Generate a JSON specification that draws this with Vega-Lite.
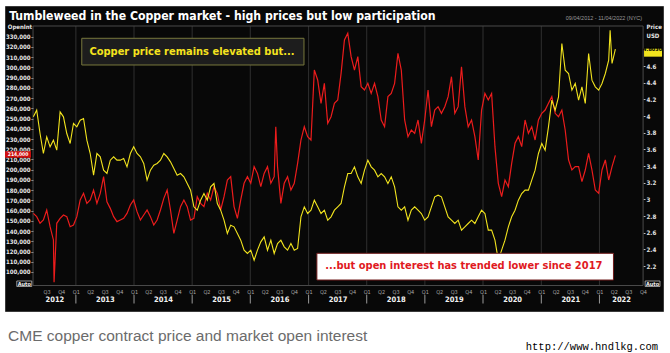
{
  "$schema": "https://vega.github.io/schema/vega-lite/v6.json",
  "width": 658,
  "height": 305,
  "autosize": {"type": "none"},
  "padding": {"left": 5, "top": 6, "right": 7, "bottom": 42},
  "background": "#ffffff",
  "config": {
    "view": {"fill": "#080808", "stroke": "#3a3a3a", "strokeWidth": 1}
  },
  "data": {
    "values": [
      {"d":"2012-04-09","oi":157300,"px":3.99},
      {"d":"2012-04-30","oi":154100,"px":4.07},
      {"d":"2012-05-21","oi":147600,"px":3.79},
      {"d":"2012-06-11","oi":150800,"px":3.55},
      {"d":"2012-07-02","oi":160600,"px":3.75},
      {"d":"2012-07-23","oi":144300,"px":3.63},
      {"d":"2012-08-13","oi":131300,"px":3.71},
      {"d":"2012-08-17","oi":90000,"px":null},
      {"d":"2012-09-03","oi":147600,"px":3.59},
      {"d":"2012-09-24","oi":152400,"px":4.05},
      {"d":"2012-10-15","oi":155700,"px":3.99},
      {"d":"2012-11-05","oi":154100,"px":3.79},
      {"d":"2012-11-26","oi":144300,"px":3.67},
      {"d":"2012-12-17","oi":145900,"px":3.91},
      {"d":"2013-01-07","oi":154100,"px":3.87},
      {"d":"2013-01-28","oi":170400,"px":3.95},
      {"d":"2013-02-18","oi":176900,"px":3.97},
      {"d":"2013-03-11","oi":167100,"px":3.71},
      {"d":"2013-04-01","oi":170400,"px":3.55},
      {"d":"2013-04-22","oi":180100,"px":3.29},
      {"d":"2013-05-13","oi":167100,"px":3.55},
      {"d":"2013-06-03","oi":176900,"px":3.51},
      {"d":"2013-06-24","oi":193200,"px":3.35},
      {"d":"2013-07-15","oi":168700,"px":3.31},
      {"d":"2013-08-05","oi":162200,"px":3.47},
      {"d":"2013-08-26","oi":154100,"px":3.51},
      {"d":"2013-09-16","oi":149200,"px":3.47},
      {"d":"2013-10-07","oi":150800,"px":3.47},
      {"d":"2013-10-28","oi":152400,"px":3.49},
      {"d":"2013-11-18","oi":157300,"px":3.39},
      {"d":"2013-12-09","oi":165500,"px":3.55},
      {"d":"2013-12-30","oi":170400,"px":3.63},
      {"d":"2014-01-20","oi":159000,"px":3.55},
      {"d":"2014-02-10","oi":150800,"px":3.51},
      {"d":"2014-03-03","oi":155700,"px":3.43},
      {"d":"2014-03-24","oi":160600,"px":3.23},
      {"d":"2014-04-14","oi":154100,"px":3.35},
      {"d":"2014-05-05","oi":145900,"px":3.41},
      {"d":"2014-05-26","oi":150800,"px":3.43},
      {"d":"2014-06-16","oi":160600,"px":3.47},
      {"d":"2014-07-07","oi":172000,"px":3.55},
      {"d":"2014-07-28","oi":180100,"px":3.51},
      {"d":"2014-08-18","oi":160600,"px":3.45},
      {"d":"2014-09-08","oi":137800,"px":3.37},
      {"d":"2014-09-29","oi":150800,"px":3.29},
      {"d":"2014-10-20","oi":163900,"px":3.31},
      {"d":"2014-11-10","oi":170400,"px":3.27},
      {"d":"2014-12-01","oi":163900,"px":3.19},
      {"d":"2014-12-22","oi":150800,"px":3.11},
      {"d":"2015-01-12","oi":152400,"px":2.91},
      {"d":"2015-02-02","oi":173600,"px":2.87},
      {"d":"2015-02-23","oi":167100,"px":2.99},
      {"d":"2015-03-16","oi":163900,"px":3.07},
      {"d":"2015-04-06","oi":176900,"px":2.99},
      {"d":"2015-04-27","oi":170400,"px":3.15},
      {"d":"2015-05-18","oi":183400,"px":3.19},
      {"d":"2015-06-08","oi":176900,"px":2.95},
      {"d":"2015-06-29","oi":160600,"px":2.87},
      {"d":"2015-07-20","oi":173600,"px":2.75},
      {"d":"2015-08-10","oi":189900,"px":2.59},
      {"d":"2015-08-31","oi":193200,"px":2.69},
      {"d":"2015-09-21","oi":163900,"px":2.67},
      {"d":"2015-10-12","oi":152400,"px":2.59},
      {"d":"2015-11-02","oi":170400,"px":2.51},
      {"d":"2015-11-23","oi":186700,"px":2.39},
      {"d":"2015-12-14","oi":193200,"px":2.35},
      {"d":"2016-01-04","oi":186700,"px":2.39},
      {"d":"2016-01-25","oi":203000,"px":2.27},
      {"d":"2016-02-15","oi":196400,"px":2.39},
      {"d":"2016-03-07","oi":183400,"px":2.49},
      {"d":"2016-03-28","oi":196400,"px":2.55},
      {"d":"2016-04-18","oi":203000,"px":2.39},
      {"d":"2016-05-09","oi":186700,"px":2.51},
      {"d":"2016-05-30","oi":193200,"px":2.35},
      {"d":"2016-06-09","oi":242000,"px":null},
      {"d":"2016-06-20","oi":203000,"px":2.47},
      {"d":"2016-07-11","oi":167100,"px":2.51},
      {"d":"2016-08-01","oi":186700,"px":2.43},
      {"d":"2016-08-22","oi":193200,"px":2.39},
      {"d":"2016-09-12","oi":180100,"px":2.47},
      {"d":"2016-10-03","oi":186700,"px":2.39},
      {"d":"2016-10-24","oi":206200,"px":2.41},
      {"d":"2016-11-14","oi":229000,"px":2.79},
      {"d":"2016-12-05","oi":242000,"px":2.91},
      {"d":"2016-12-26","oi":232300,"px":2.83},
      {"d":"2017-01-16","oi":229000,"px":2.87},
      {"d":"2017-02-06","oi":297400,"px":2.99},
      {"d":"2017-02-27","oi":287700,"px":2.91},
      {"d":"2017-03-20","oi":264900,"px":2.83},
      {"d":"2017-04-10","oi":284400,"px":2.87},
      {"d":"2017-05-01","oi":245300,"px":2.75},
      {"d":"2017-05-22","oi":251800,"px":2.79},
      {"d":"2017-06-12","oi":264900,"px":2.87},
      {"d":"2017-07-03","oi":268100,"px":2.91},
      {"d":"2017-07-24","oi":294200,"px":2.95},
      {"d":"2017-08-14","oi":326800,"px":3.15},
      {"d":"2017-09-04","oi":333300,"px":3.31},
      {"d":"2017-09-25","oi":310500,"px":3.31},
      {"d":"2017-10-16","oi":297400,"px":3.39},
      {"d":"2017-11-06","oi":310500,"px":3.27},
      {"d":"2017-11-27","oi":281200,"px":3.19},
      {"d":"2017-12-18","oi":277900,"px":3.35},
      {"d":"2018-01-08","oi":284400,"px":3.47},
      {"d":"2018-01-29","oi":274600,"px":3.39},
      {"d":"2018-02-19","oi":284400,"px":3.35},
      {"d":"2018-03-12","oi":271400,"px":3.27},
      {"d":"2018-04-02","oi":248600,"px":3.31},
      {"d":"2018-04-23","oi":242000,"px":3.27},
      {"d":"2018-05-14","oi":271400,"px":3.19},
      {"d":"2018-06-04","oi":274600,"px":3.27},
      {"d":"2018-06-25","oi":284400,"px":3.15},
      {"d":"2018-07-16","oi":313700,"px":2.91},
      {"d":"2018-08-06","oi":297400,"px":2.87},
      {"d":"2018-08-27","oi":248600,"px":2.91},
      {"d":"2018-09-17","oi":232300,"px":2.75},
      {"d":"2018-10-08","oi":238800,"px":2.87},
      {"d":"2018-10-29","oi":235500,"px":2.91},
      {"d":"2018-11-19","oi":248600,"px":2.87},
      {"d":"2018-12-10","oi":225800,"px":2.83},
      {"d":"2018-12-31","oi":248600,"px":2.75},
      {"d":"2019-01-21","oi":277900,"px":2.79},
      {"d":"2019-02-11","oi":242000,"px":2.91},
      {"d":"2019-03-04","oi":258300,"px":3.03},
      {"d":"2019-03-25","oi":261600,"px":3.05},
      {"d":"2019-04-15","oi":255100,"px":3.03},
      {"d":"2019-05-06","oi":261600,"px":2.91},
      {"d":"2019-05-27","oi":271400,"px":2.79},
      {"d":"2019-06-17","oi":290900,"px":2.75},
      {"d":"2019-07-08","oi":255100,"px":2.71},
      {"d":"2019-07-29","oi":261600,"px":2.75},
      {"d":"2019-08-19","oi":300700,"px":2.63},
      {"d":"2019-09-09","oi":261600,"px":2.67},
      {"d":"2019-09-30","oi":242000,"px":2.71},
      {"d":"2019-10-21","oi":248600,"px":2.75},
      {"d":"2019-11-11","oi":232300,"px":2.71},
      {"d":"2019-12-02","oi":209500,"px":2.79},
      {"d":"2019-12-23","oi":258300,"px":2.87},
      {"d":"2020-01-13","oi":274600,"px":2.83},
      {"d":"2020-02-03","oi":268100,"px":2.63},
      {"d":"2020-02-24","oi":274600,"px":2.63},
      {"d":"2020-03-16","oi":222500,"px":2.51},
      {"d":"2020-04-06","oi":186700,"px":2.27},
      {"d":"2020-04-27","oi":173600,"px":2.39},
      {"d":"2020-05-18","oi":189900,"px":2.51},
      {"d":"2020-06-08","oi":183400,"px":2.67},
      {"d":"2020-06-29","oi":206200,"px":2.79},
      {"d":"2020-07-20","oi":225800,"px":2.87},
      {"d":"2020-08-10","oi":232300,"px":2.99},
      {"d":"2020-08-31","oi":222500,"px":3.07},
      {"d":"2020-09-21","oi":248600,"px":3.11},
      {"d":"2020-10-12","oi":235500,"px":3.11},
      {"d":"2020-11-02","oi":242000,"px":3.23},
      {"d":"2020-11-23","oi":229000,"px":3.35},
      {"d":"2020-12-14","oi":248600,"px":3.55},
      {"d":"2021-01-04","oi":255100,"px":3.67},
      {"d":"2021-01-25","oi":258300,"px":3.59},
      {"d":"2021-02-15","oi":264900,"px":3.87},
      {"d":"2021-03-08","oi":271400,"px":4.19},
      {"d":"2021-03-29","oi":255100,"px":4.07},
      {"d":"2021-04-19","oi":251800,"px":4.23},
      {"d":"2021-05-10","oi":258300,"px":4.87},
      {"d":"2021-05-31","oi":238800,"px":4.55},
      {"d":"2021-06-21","oi":209500,"px":4.51},
      {"d":"2021-07-12","oi":199700,"px":4.31},
      {"d":"2021-08-02","oi":203000,"px":4.39},
      {"d":"2021-08-23","oi":203000,"px":4.19},
      {"d":"2021-09-13","oi":188300,"px":4.35},
      {"d":"2021-10-04","oi":199700,"px":4.15},
      {"d":"2021-10-25","oi":216000,"px":4.75},
      {"d":"2021-11-15","oi":199700,"px":4.43},
      {"d":"2021-12-06","oi":180100,"px":4.35},
      {"d":"2021-12-27","oi":176900,"px":4.31},
      {"d":"2022-01-17","oi":199700,"px":4.39},
      {"d":"2022-02-07","oi":209500,"px":4.51},
      {"d":"2022-02-28","oi":189900,"px":4.67},
      {"d":"2022-03-09","oi":null,"px":5.03},
      {"d":"2022-03-21","oi":203000,"px":4.63},
      {"d":"2022-04-11","oi":214000,"px":4.803}
    ]
  },
  "resolve": {"scale": {"y": "independent"}, "axis": {"x": "independent", "y": "independent"}},
  "layer": [
    {
      "data": {"values": [{"d":"2013-01-01"},{"d":"2014-01-01"},{"d":"2015-01-01"},{"d":"2016-01-01"},{"d":"2017-01-01"},{"d":"2018-01-01"},{"d":"2019-01-01"},{"d":"2020-01-01"},{"d":"2021-01-01"},{"d":"2022-01-01"}]},
      "mark": {"type": "rule", "color": "#303030", "strokeWidth": 1},
      "encoding": {
        "x": {"field": "d", "type": "temporal", "axis": null},
        "y": {"datum": 86800, "type": "quantitative", "axis": null, "scale": {"domain": [61870, 360010], "nice": false, "zero": false}},
        "y2": {"datum": 340460}
      }
    },
    {
      "data": {"values": [{"d":"2013-01-01"},{"d":"2014-01-01"},{"d":"2015-01-01"},{"d":"2016-01-01"},{"d":"2017-01-01"},{"d":"2018-01-01"},{"d":"2019-01-01"},{"d":"2020-01-01"},{"d":"2021-01-01"},{"d":"2022-01-01"}]},
      "mark": {"type": "rule", "color": "#9a9a9a", "strokeWidth": 1},
      "encoding": {
        "x": {"field": "d", "type": "temporal", "axis": null},
        "y": {"datum": 77500, "type": "quantitative", "axis": null, "scale": {"domain": [61870, 360010], "nice": false, "zero": false}},
        "y2": {"datum": 69200}
      }
    },
    {
      "data": {"values": [{}]},
      "mark": {"type": "rect", "fill": "transparent", "stroke": "#4a4a4a", "strokeWidth": 1},
      "encoding": {
        "x": {"datum": {"year": 2012, "month": 4, "date": 7, "utc": true}, "type": "temporal", "axis": null},
        "x2": {"datum": {"year": 2022, "month": 10, "date": 2, "utc": true}},
        "y": {"datum": 86800, "type": "quantitative", "axis": null, "scale": {"domain": [61870, 360010], "nice": false, "zero": false}},
        "y2": {"datum": 340460}
      }
    },
    {
      "transform": [{"filter": "isValid(datum.oi)"}],
      "mark": {"type": "line", "color": "#ec1c1c", "strokeWidth": 1.2},
      "encoding": {
        "x": {
          "field": "d", "type": "temporal",
          "scale": {"type": "utc", "nice": false, "domain": [{"year": 2011, "month": 10, "date": 14, "utc": true}, {"year": 2023, "month": 2, "date": 4, "utc": true}]},
          "axis": {
            "orient": "bottom", "offset": -25.5, "title": null,
            "tickCount": {"interval": "month", "step": 3},
            "labelExpr": "datum.value < utc(2012,6,1) || datum.value > utc(2022,9,2) ? '' : 'Q' + (floor(utcmonth(datum.value) / 3) + 1)",
            "ticks": false, "domain": false, "grid": false,
            "labelPadding": 4, "labelFontSize": 5.5, "labelColor": "#a8a8a8",
            "labelFont": "DejaVu Sans Condensed, DejaVu Sans, sans-serif",
            "labelOverlap": false, "labelFlush": false, "labelBound": false
          }
        },
        "y": {
          "field": "oi", "type": "quantitative",
          "scale": {"domain": [61870, 360010], "nice": false, "zero": false},
          "axis": {
            "orient": "left", "offset": -28,
            "values": [100000,110000,120000,130000,140000,150000,160000,170000,180000,190000,200000,210000,220000,230000,240000,250000,260000,270000,280000,290000,300000,310000,320000,330000],
            "format": ",.0f", "domain": false, "grid": false,
            "ticks": true, "tickSize": 2, "tickColor": "#bbbbbb",
            "labelPadding": 1, "labelFontSize": 6, "labelFontWeight": "bold", "labelColor": "#e6e6e6",
            "labelFont": "DejaVu Sans Condensed, DejaVu Sans, sans-serif",
            "labelOverlap": false, "labelFlush": false, "labelBound": false,
            "title": "OpenInt", "titleAngle": 0, "titleX": -13.5, "titleY": 20.7,
            "titleAlign": "center", "titleBaseline": "middle",
            "titleFont": "DejaVu Sans Condensed, DejaVu Sans, sans-serif",
            "titleFontSize": 6, "titleFontWeight": "bold", "titleColor": "#e6e6e6"
          }
        }
      }
    },
    {
      "transform": [{"filter": "datum.oi == 214000"}],
      "mark": {"type": "bar", "color": "#d01010", "size": 6.5, "yOffset": -1},
      "encoding": {
        "x": {"datum": {"year": 2011, "month": 10, "date": 14, "utc": true}, "type": "temporal", "axis": null},
        "x2": {"datum": {"year": 2012, "month": 3, "date": 25, "utc": true}},
        "y": {"field": "oi", "type": "quantitative", "axis": null, "scale": {"domain": [61870, 360010], "nice": false, "zero": false}}
      }
    },
    {
      "transform": [{"filter": "datum.oi == 214000"}],
      "mark": {"type": "text", "color": "#ffffff", "font": "DejaVu Sans Condensed, DejaVu Sans, sans-serif", "fontWeight": "bold", "fontSize": 5, "align": "center", "baseline": "middle", "dy": -1},
      "encoding": {
        "x": {"datum": {"year": 2012, "month": 1, "date": 4, "utc": true}, "type": "temporal", "axis": null},
        "y": {"field": "oi", "type": "quantitative", "axis": null, "scale": {"domain": [61870, 360010], "nice": false, "zero": false}},
        "text": {"field": "oi", "type": "quantitative", "format": ",.0f"}
      }
    },
    {
      "transform": [{"filter": "isValid(datum.px)"}],
      "mark": {"type": "line", "color": "#f2e41e", "strokeWidth": 1.1},
      "encoding": {
        "x": {
          "field": "d", "type": "temporal",
          "scale": {"type": "utc", "nice": false, "domain": [{"year": 2011, "month": 10, "date": 14, "utc": true}, {"year": 2023, "month": 2, "date": 4, "utc": true}]},
          "axis": {
            "orient": "bottom", "offset": -25.5, "title": null,
            "values": [
              {"year": 2012, "month": 8, "date": 19, "utc": true},
              {"year": 2013, "month": 7, "date": 2, "utc": true},
              {"year": 2014, "month": 7, "date": 2, "utc": true},
              {"year": 2015, "month": 7, "date": 2, "utc": true},
              {"year": 2016, "month": 7, "date": 2, "utc": true},
              {"year": 2017, "month": 7, "date": 2, "utc": true},
              {"year": 2018, "month": 7, "date": 2, "utc": true},
              {"year": 2019, "month": 7, "date": 2, "utc": true},
              {"year": 2020, "month": 7, "date": 2, "utc": true},
              {"year": 2021, "month": 7, "date": 2, "utc": true},
              {"year": 2022, "month": 5, "date": 17, "utc": true}
            ],
            "format": "%Y",
            "ticks": false, "domain": false, "grid": false,
            "labelPadding": 9.5, "labelFontSize": 7.5, "labelFontWeight": "bold", "labelColor": "#f2f2f2",
            "labelFont": "DejaVu Sans Condensed, DejaVu Sans, sans-serif",
            "labelOverlap": false, "labelFlush": false, "labelBound": false
          }
        },
        "y": {
          "field": "px", "type": "quantitative",
          "scale": {"domain": [1.66, 5.32], "nice": false, "zero": false},
          "axis": {
            "orient": "right", "offset": -20,
            "values": [2.2, 2.4, 2.6, 2.8, 3, 3.2, 3.4, 3.6, 3.8, 4, 4.2, 4.4, 4.6],
            "format": ".1~f", "domain": false, "grid": false,
            "ticks": true, "tickSize": 2, "tickColor": "#bbbbbb",
            "labelPadding": 1, "labelFontSize": 6.2, "labelFontWeight": "bold", "labelColor": "#e0e0e0",
            "labelFont": "DejaVu Sans Condensed, DejaVu Sans, sans-serif",
            "labelOverlap": false, "labelFlush": false, "labelBound": false,
            "title": ["Price", "USD"], "titleAngle": 0, "titleX": 3, "titleY": 17.5,
            "titleAlign": "left", "titleBaseline": "top", "titleLineHeight": 8.5,
            "titleFont": "DejaVu Sans Condensed, DejaVu Sans, sans-serif",
            "titleFontSize": 6, "titleFontWeight": "bold", "titleColor": "#e6e6e6"
          }
        }
      }
    },
    {
      "transform": [{"filter": "datum.px == 4.803"}],
      "mark": {"type": "bar", "color": "#f2e41e", "size": 8},
      "encoding": {
        "x": {"datum": {"year": 2022, "month": 10, "date": 8, "utc": true}, "type": "temporal", "axis": null},
        "x2": {"datum": {"year": 2023, "month": 1, "date": 29, "utc": true}},
        "y": {"field": "px", "type": "quantitative", "axis": null, "scale": {"domain": [1.66, 5.32], "nice": false, "zero": false}}
      }
    },
    {
      "transform": [{"filter": "datum.px == 4.803"}],
      "mark": {"type": "text", "color": "#000000", "font": "DejaVu Sans Condensed, DejaVu Sans, sans-serif", "fontWeight": "bold", "fontSize": 5.5, "align": "center", "baseline": "middle"},
      "encoding": {
        "x": {"datum": {"year": 2022, "month": 12, "date": 1, "utc": true}, "type": "temporal", "axis": null},
        "y": {"field": "px", "type": "quantitative", "axis": null, "scale": {"domain": [1.66, 5.32], "nice": false, "zero": false}},
        "text": {"field": "px", "type": "quantitative", "format": ".4f"}
      }
    },
    {
      "data": {"values": [{}]},
      "mark": {"type": "rect", "fill": "#1d1d1d", "stroke": "#77773c", "strokeWidth": 1},
      "encoding": {
        "x": {"datum": {"year": 2013, "month": 2, "date": 7, "utc": true}, "type": "temporal", "axis": null},
        "x2": {"datum": {"year": 2016, "month": 12, "date": 3, "utc": true}},
        "y": {"datum": 328440, "type": "quantitative", "axis": null, "scale": {"domain": [61870, 360010], "nice": false, "zero": false}},
        "y2": {"datum": 302340}
      }
    },
    {
      "data": {"values": [{}]},
      "mark": {"type": "text", "text": "Copper price remains elevated but...", "color": "#f5e31e", "font": "DejaVu Sans Condensed, DejaVu Sans, sans-serif", "fontWeight": "bold", "fontSize": 11, "align": "left", "baseline": "middle"},
      "encoding": {
        "x": {"datum": {"year": 2013, "month": 3, "date": 27, "utc": true}, "type": "temporal", "axis": null},
        "y": {"datum": 315040, "type": "quantitative", "axis": null, "scale": {"domain": [61870, 360010], "nice": false, "zero": false}}
      }
    },
    {
      "data": {"values": [{}]},
      "mark": {"type": "rect", "fill": "#ffffff", "stroke": "#6e1a1a", "strokeWidth": 1},
      "encoding": {
        "x": {"datum": {"year": 2017, "month": 2, "date": 22, "utc": true}, "type": "temporal", "axis": null},
        "x2": {"datum": {"year": 2022, "month": 3, "date": 30, "utc": true}},
        "y": {"datum": 118270, "type": "quantitative", "axis": null, "scale": {"domain": [61870, 360010], "nice": false, "zero": false}},
        "y2": {"datum": 92170}
      }
    },
    {
      "data": {"values": [{}]},
      "mark": {"type": "text", "text": "...but open interest has trended lower since 2017", "color": "#e0191e", "font": "DejaVu Sans Condensed, DejaVu Sans, sans-serif", "fontWeight": "bold", "fontSize": 11, "align": "left", "baseline": "middle"},
      "encoding": {
        "x": {"datum": {"year": 2017, "month": 4, "date": 15, "utc": true}, "type": "temporal", "axis": null},
        "y": {"datum": 105570, "type": "quantitative", "axis": null, "scale": {"domain": [61870, 360010], "nice": false, "zero": false}}
      }
    },
    {
      "data": {"values": [{}]},
      "mark": {"type": "text", "text": "Tumbleweed in the Copper market - high prices but low participation", "color": "#ffffff", "font": "DejaVu Sans Condensed, DejaVu Sans, sans-serif", "fontWeight": "bold", "fontSize": 12.2, "align": "left", "baseline": "middle"},
      "encoding": {
        "x": {"datum": {"year": 2011, "month": 11, "date": 9, "utc": true}, "type": "temporal", "axis": null},
        "y": {"datum": 350230, "type": "quantitative", "axis": null, "scale": {"domain": [61870, 360010], "nice": false, "zero": false}}
      }
    },
    {
      "data": {"values": [{}]},
      "mark": {"type": "text", "text": "09/04/2012 - 11/04/2022 (NYC)", "color": "#9a9a9a", "font": "Liberation Sans, sans-serif", "fontSize": 5.5, "align": "right", "baseline": "middle"},
      "encoding": {
        "x": {"datum": {"year": 2022, "month": 9, "date": 26, "utc": true}, "type": "temporal", "axis": null},
        "y": {"datum": 347990, "type": "quantitative", "axis": null, "scale": {"domain": [61870, 360010], "nice": false, "zero": false}}
      }
    },
    {
      "data": {"values": [{}]},
      "mark": {"type": "rect", "fill": "transparent", "stroke": "#bdbdbd", "strokeWidth": 0.8},
      "encoding": {
        "x": {"datum": {"year": 2011, "month": 12, "date": 27, "utc": true}, "type": "temporal", "axis": null},
        "x2": {"datum": {"year": 2012, "month": 3, "date": 30, "utc": true}},
        "y": {"datum": 91200, "type": "quantitative", "axis": null, "scale": {"domain": [61870, 360010], "nice": false, "zero": false}},
        "y2": {"datum": 85820}
      }
    },
    {
      "data": {"values": [{}]},
      "mark": {"type": "rect", "fill": "transparent", "stroke": "#bdbdbd", "strokeWidth": 0.8},
      "encoding": {
        "x": {"datum": {"year": 2022, "month": 10, "date": 15, "utc": true}, "type": "temporal", "axis": null},
        "x2": {"datum": {"year": 2023, "month": 1, "date": 16, "utc": true}},
        "y": {"datum": 91200, "type": "quantitative", "axis": null, "scale": {"domain": [61870, 360010], "nice": false, "zero": false}},
        "y2": {"datum": 85820}
      }
    },
    {
      "data": {"values": [{}]},
      "mark": {"type": "text", "text": "Auto", "color": "#f0f0f0", "font": "DejaVu Sans Condensed, DejaVu Sans, sans-serif", "fontWeight": "bold", "fontSize": 5.5, "align": "center", "baseline": "middle"},
      "encoding": {
        "x": {"datum": {"year": 2012, "month": 2, "date": 12, "utc": true}, "type": "temporal", "axis": null},
        "y": {"datum": 88750, "type": "quantitative", "axis": null, "scale": {"domain": [61870, 360010], "nice": false, "zero": false}}
      }
    },
    {
      "data": {"values": [{}]},
      "mark": {"type": "text", "text": "Auto", "color": "#f0f0f0", "font": "DejaVu Sans Condensed, DejaVu Sans, sans-serif", "fontWeight": "bold", "fontSize": 5.5, "align": "center", "baseline": "middle"},
      "encoding": {
        "x": {"datum": {"year": 2022, "month": 11, "date": 30, "utc": true}, "type": "temporal", "axis": null},
        "y": {"datum": 88750, "type": "quantitative", "axis": null, "scale": {"domain": [61870, 360010], "nice": false, "zero": false}}
      }
    },
    {
      "data": {"values": [{}]},
      "mark": {"type": "text", "text": "CME copper contract price and market open interest", "color": "#6b6b6b", "font": "Liberation Sans, Arial, sans-serif", "fontSize": 15.5, "align": "left", "baseline": "middle"},
      "encoding": {
        "x": {"datum": {"year": 2011, "month": 11, "date": 2, "utc": true}, "type": "temporal", "axis": null},
        "y": {"datum": 37430, "type": "quantitative", "axis": null, "scale": {"domain": [61870, 360010], "nice": false, "zero": false}}
      }
    },
    {
      "data": {"values": [{}]},
      "mark": {"type": "text", "text": "http://www.hndlkg.com", "color": "#000000", "font": "Liberation Mono, DejaVu Sans Mono, monospace", "fontSize": 10.5, "align": "right", "baseline": "middle"},
      "encoding": {
        "x": {"datum": {"year": 2023, "month": 1, "date": 4, "utc": true}, "type": "temporal", "axis": null},
        "y": {"datum": 26680, "type": "quantitative", "axis": null, "scale": {"domain": [61870, 360010], "nice": false, "zero": false}}
      }
    }
  ]
}
